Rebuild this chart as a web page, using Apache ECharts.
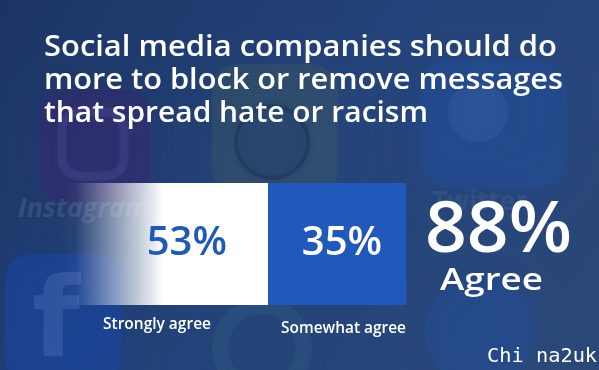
<!DOCTYPE html>
<html><head><meta charset="utf-8">
<script src="https://cdn.jsdelivr.net/npm/echarts@6/dist/echarts.min.js"></script>
<style>html,body{margin:0;padding:0;background:#1f3a6c}#c{width:599px;height:370px}</style>
</head><body><div id="c"></div>
<script>
const titleLines = ['Social media companies should do', 'more to block or remove messages', 'that spread hate or racism'];
const categories = ['Strongly agree', 'Somewhat agree'];
const values = [53, 35];
const totalLabel = '88%';
const totalText = 'Agree';
const watermark = 'Chi na2uk';

const FONT = '"Open Sans"';
const total = values[0] + values[1];
const chart = echarts.init(document.getElementById('c'), null, {renderer: 'canvas'});

const mctx = document.createElement('canvas').getContext('2d');
function measure(text, weight, family, size) {
  mctx.font = weight + ' ' + size + 'px ' + family;
  mctx.textBaseline = 'middle';
  const w = mctx.measureText(text).width;
  const h = mctx.measureText('H');
  return {w: w, asc: h.actualBoundingBoxAscent, desc: h.actualBoundingBoxDescent};
}
// place text so its cap-height box sits at [capTop, baseline] and spans [left, right]
function fitText(text, weight, family, left, right, capTop, baseline, fill, z) {
  const r = measure(text, weight, family, 100);
  const capRatio = (r.asc + r.desc) / 100;
  const size = (baseline - capTop) / capRatio;
  const m = measure(text, weight, family, size);
  const sx = (right - left) / m.w;
  return {type:'text', x:left, y:capTop + m.asc, scaleX:sx, z:z || 10,
    style:{text:text, font:weight + ' ' + size.toFixed(2) + 'px ' + family, fill:fill || '#ffffff', textAlign:'left', textVerticalAlign:'middle'}};
}

const bg = [
  {type:'rect', shape:{x:0,y:0,width:599,height:370}, style:{fill:new echarts.graphic.LinearGradient(0,0,1,1,[{offset:0,color:'#1b3464'},{offset:0.5,color:'#23437a'},{offset:1,color:'#2a4878'}])}, z:-10},
  {type:'rect', shape:{x:40,y:90,width:110,height:112,r:24}, style:{fill:'rgba(60,35,110,0.35)', shadowBlur:30, shadowColor:'rgba(60,35,110,0.6)'}, z:-9},
  {type:'rect', shape:{x:62,y:112,width:62,height:64,r:18}, style:{fill:'none', stroke:'rgba(100,110,190,0.18)', lineWidth:9, shadowBlur:10, shadowColor:'rgba(100,110,190,0.3)'}, z:-8},
  {type:'rect', shape:{x:212,y:64,width:126,height:132,r:26}, style:{fill:'rgba(70,100,90,0.25)', shadowBlur:30, shadowColor:'rgba(70,100,90,0.45)'}, z:-9},
  {type:'circle', shape:{cx:272,cy:142,r:36}, style:{fill:'rgba(40,70,120,0.35)', stroke:'rgba(20,40,80,0.35)', lineWidth:4, shadowBlur:10, shadowColor:'rgba(20,40,80,0.4)'}, z:-8},
  {type:'rect', shape:{x:420,y:60,width:146,height:128,r:28}, style:{fill:'rgba(30,80,170,0.3)', shadowBlur:30, shadowColor:'rgba(30,80,170,0.45)'}, z:-9},
  {type:'circle', shape:{cx:478,cy:112,r:30}, style:{fill:'rgba(90,130,190,0.14)', shadowBlur:20, shadowColor:'rgba(90,130,190,0.3)'}, z:-8},
  {type:'rect', shape:{x:5,y:254,width:116,height:130,r:26}, style:{fill:'rgba(25,70,170,0.45)', shadowBlur:30, shadowColor:'rgba(25,70,170,0.5)'}, z:-9},
  {type:'text', x:32, y:272, style:{text:'f', font:'bold 110px "DejaVu Sans"', fill:'rgba(110,140,200,0.25)', shadowBlur:10, shadowColor:'rgba(110,140,200,0.3)'}, z:-8},
  {type:'circle', shape:{cx:262,cy:348,r:42}, style:{fill:'none', stroke:'rgba(60,110,130,0.22)', lineWidth:16, shadowBlur:20, shadowColor:'rgba(60,110,130,0.4)'}, z:-9},
  {type:'circle', shape:{cx:480,cy:332,r:55}, style:{fill:'rgba(30,80,170,0.25)', shadowBlur:30, shadowColor:'rgba(30,80,170,0.4)'}, z:-9},
  {type:'text', x:18, y:196, style:{text:'Instagram', font:'italic bold 27px "Open Sans"', fill:'rgba(200,210,230,0.13)', shadowBlur:6, shadowColor:'rgba(200,210,230,0.2)'}, z:-8},
  {type:'text', x:432, y:190, style:{text:'Twitter', font:'bold 26px "Open Sans"', fill:'rgba(200,210,230,0.07)'}, z:-8}
];

function buildGraphic(centers) {
  const g = bg.slice();
  const titleRights = [557, 563, 428];
  titleLines.forEach((t, i) => {
    const base = 56 + i * 33;
    g.push(fitText(t, '600', FONT, 44, titleRights[i], base - 21, base));
  });
  const labelWidths = [108, 125];
  const labelBase = [329, 333];
  categories.forEach((c, i) => {
    g.push(fitText(c, '600', FONT, centers[i] - labelWidths[i] / 2, centers[i] + labelWidths[i] / 2, labelBase[i] - 12, labelBase[i]));
  });
  g.push(fitText(totalLabel, '600', FONT, 425, 572, 201, 252));
  g.push(fitText(totalText, '600', FONT, 440, 543, 268, 290));
  g.push(fitText(watermark, 'normal', '"DejaVu Sans Mono"', 487, 597, 348, 362));
  return g;
}

const option = {
  backgroundColor: 'transparent',
  animation: false,
  grid: {left:59, top:183, width:347, height:122},
  xAxis: {type:'value', min:0, max:total, show:false},
  yAxis: {type:'category', data:['Agree'], show:false},
  series: [
    {name:categories[0], type:'bar', stack:'a', barWidth:'100%', data:[values[0]],
     itemStyle:{color:new echarts.graphic.LinearGradient(0,0,1,0,[
       {offset:0,color:'rgba(255,255,255,0)'},
       {offset:0.08,color:'rgba(255,255,255,0.03)'},
       {offset:0.3,color:'rgba(255,255,255,0.55)'},
       {offset:0.5,color:'rgba(255,255,255,1)'},
       {offset:1,color:'rgba(255,255,255,1)'}])},
     label:{show:true, position:'insideRight', distance:41, formatter:'{c}%', color:'#2159b9', fontSize:40, fontFamily:'Open Sans', fontWeight:600}},
    {name:categories[1], type:'bar', stack:'a', barWidth:'100%', data:[values[1]],
     itemStyle:{color:'#2159ba'},
     label:{show:true, position:'inside', offset:[5,0], formatter:'{c}%', color:'#ffffff', fontSize:40, fontFamily:'Open Sans', fontWeight:600}}
  ],
  graphic: buildGraphic([157, 343])
};
chart.setOption(option);
const c0 = chart.convertToPixel({gridIndex:0}, [values[0] / 2, 0])[0] - 6.5;
const c1 = chart.convertToPixel({gridIndex:0}, [values[0] + values[1] / 2, 0])[0] + 6.5;
chart.setOption({graphic: buildGraphic([c0, c1])}, {replaceMerge:['graphic']});
</script></body></html>
